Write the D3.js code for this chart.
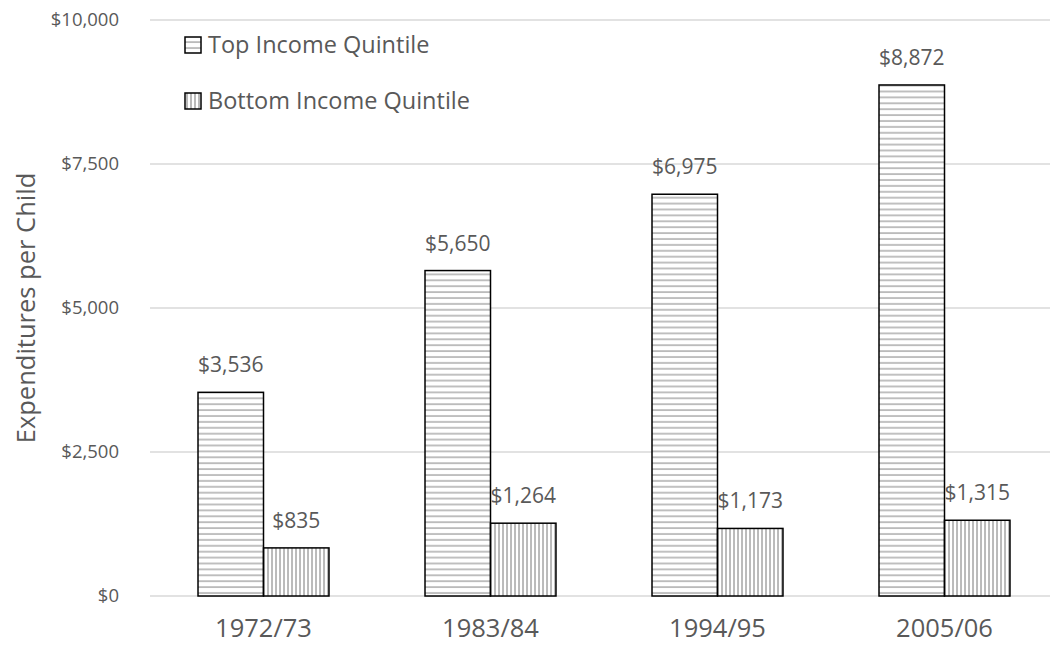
<!DOCTYPE html>
<html>
<head>
<meta charset="utf-8">
<script src="https://cdn.jsdelivr.net/npm/d3@7"></script>
<style>
  body { margin: 0; background: #fff; }
  text { font-family: "Open Sans", sans-serif; fill: #595959; }
</style>
</head>
<body>
<svg width="1050" height="652"></svg>
<script>
const years = ["1972/73", "1983/84", "1994/95", "2005/06"];
const topQuintile = [3536, 5650, 6975, 8872];
const bottomQuintile = [835, 1264, 1173, 1315];
const seriesNames = ["Top Income Quintile", "Bottom Income Quintile"];
const yTicks = [0, 2500, 5000, 7500, 10000];

const svg = d3.select("svg");

// plot area (right edge runs past the picture, like the original crop)
const plotL = 150, plotR = 1058, plotT = 20, plotB = 596;

const x = d3.scaleBand().domain(years).range([plotL, plotR]).paddingInner(0.423).paddingOuter(0.2115);
const xs = d3.scaleBand().domain([0, 1]).range([0, x.bandwidth()]);
const y = d3.scaleLinear().domain([0, 10000]).range([plotB, plotT]);

// hatch patterns
const defs = svg.append("defs");
const hp = defs.append("pattern").attr("id", "hlines")
  .attr("patternUnits", "userSpaceOnUse").attr("width", 10).attr("height", 5.9);
hp.append("rect").attr("width", 10).attr("height", 5.9).attr("fill", "#fff");
hp.append("line").attr("x1", 0).attr("x2", 10).attr("y1", 3).attr("y2", 3)
  .attr("stroke", "#a6a6a6").attr("stroke-width", 1.4);
const vp = defs.append("pattern").attr("id", "vlines")
  .attr("patternUnits", "userSpaceOnUse").attr("width", 4).attr("height", 10);
vp.append("rect").attr("width", 4).attr("height", 10).attr("fill", "#fff");
vp.append("line").attr("x1", 2).attr("x2", 2).attr("y1", 0).attr("y2", 10)
  .attr("stroke", "#8c8c8c").attr("stroke-width", 1.2);
const fills = ["url(#hlines)", "url(#vlines)"];

// gridlines
svg.append("g").selectAll("line").data(yTicks).enter().append("line")
  .attr("x1", plotL).attr("x2", 1050)
  .attr("y1", d => y(d)).attr("y2", d => y(d))
  .attr("stroke", "#d9d9d9").attr("stroke-width", 1.5);

// y axis labels
const fmt = d => "$" + d3.format(",")(d);
svg.append("g").selectAll("text").data(yTicks).enter().append("text")
  .attr("x", 119).attr("y", d => y(d)).attr("dy", "0.35em")
  .attr("text-anchor", "end").style("font-size", "18.5px")
  .text(fmt);

// axis title
svg.append("text")
  .attr("transform", `translate(26,${(plotT + plotB) / 2}) rotate(-90)`)
  .attr("text-anchor", "middle").attr("dy", "0.35em")
  .style("font-size", "25.5px")
  .text("Expenditures per Child");

// bars
const rows = years.map((yr, i) => ({ year: yr, vals: [topQuintile[i], bottomQuintile[i]] }));
const g = svg.append("g").selectAll("g").data(rows).enter().append("g")
  .attr("transform", d => `translate(${x(d.year)},0)`);

g.selectAll("rect").data(d => d.vals.map((v, k) => ({ v, k }))).enter().append("rect")
  .attr("x", d => xs(d.k)).attr("width", xs.bandwidth())
  .attr("y", d => y(d.v)).attr("height", d => y(0) - y(d.v))
  .attr("fill", d => fills[d.k])
  .attr("stroke", "#000").attr("stroke-width", 1.5);

g.selectAll("text").data(d => d.vals.map((v, k) => ({ v, k }))).enter().append("text")
  .attr("x", d => xs(d.k) + xs.bandwidth() / 2)
  .attr("y", d => y(d.v) - 20)
  .attr("text-anchor", "middle").style("font-size", "21px")
  .text(d => fmt(d.v));

// x labels
svg.append("g").selectAll("text").data(years).enter().append("text")
  .attr("x", d => x(d) + x.bandwidth() / 2).attr("y", 637)
  .attr("text-anchor", "middle").style("font-size", "25.5px")
  .text(d => d);

// legend
const lg = svg.append("g").selectAll("g").data(seriesNames).enter().append("g")
  .attr("transform", (d, i) => `translate(185,${45 + i * 56})`);
lg.append("rect").attr("x", 0).attr("y", -8).attr("width", 16).attr("height", 16)
  .attr("fill", (d, i) => fills[i]).attr("stroke", "#000").attr("stroke-width", 1.5);
lg.append("text").attr("x", 23).attr("dy", "0.35em").style("font-size", "23.5px").text(d => d);
</script>
</body>
</html>
